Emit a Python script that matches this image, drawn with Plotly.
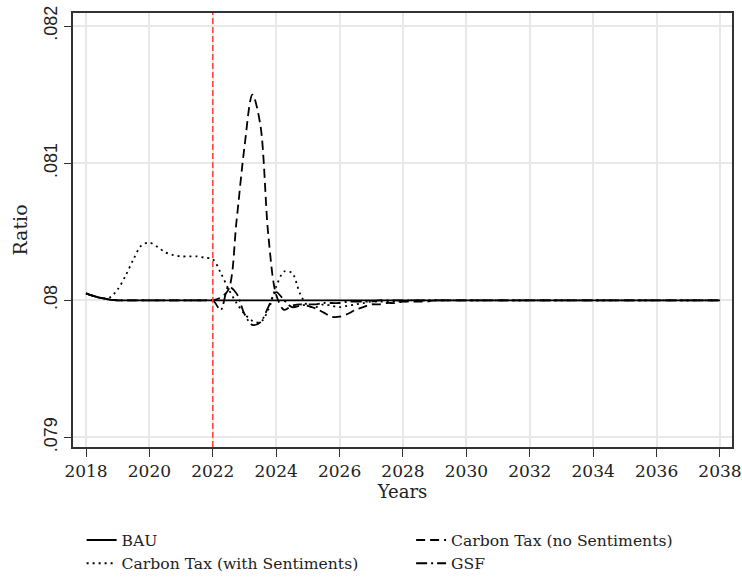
import plotly.graph_objects as go

# quarterly time grid 2018Q1 .. 2038Q1
years = [2018 + q / 4 for q in range(81)]

bau = [0.08005, 0.08003, 0.080015, 0.080005] + [0.08] * 77

tax_with = [0.08005, 0.08003, 0.080015, 0.08002,
            0.08008, 0.08018, 0.08030, 0.08040,
            0.08042, 0.08039, 0.08035, 0.08033,
            0.08032, 0.08032, 0.08032, 0.08031,
            0.08030, 0.08020, 0.08008, 0.07998,
            0.07990, 0.07985, 0.07984, 0.07993,
            0.08010, 0.08021, 0.08020, 0.08005,
            0.07996, 0.07995, 0.07997, 0.07996,
            0.07995, 0.07996, 0.07997, 0.07998,
            0.07999, 0.07999, 0.07999, 0.07999,
            0.07999, 0.08, 0.08, 0.08] + [0.08] * 37

tax_no = [0.08005, 0.08003, 0.080015, 0.080005,
          0.08, 0.08, 0.08, 0.08,
          0.08, 0.08, 0.08, 0.08,
          0.08, 0.08, 0.08, 0.08,
          0.08, 0.08002, 0.08008, 0.08058,
          0.08112, 0.08150, 0.08128, 0.08048,
          0.08004, 0.07993, 0.07996, 0.07997,
          0.07996, 0.07994, 0.07991, 0.07988,
          0.07988, 0.07990, 0.07993, 0.07995,
          0.07997, 0.07997, 0.07998, 0.07998,
          0.07999, 0.07999, 0.07999, 0.07999,
          0.08, 0.08, 0.08, 0.08] + [0.08] * 33

gsf = [0.08005, 0.08003, 0.080015, 0.080005,
       0.08, 0.08, 0.08, 0.08,
       0.08, 0.08, 0.08, 0.08,
       0.08, 0.08, 0.08, 0.08,
       0.08, 0.07993, 0.08010, 0.08005,
       0.07990, 0.07982, 0.07984, 0.07995,
       0.08006, 0.08, 0.07995, 0.07996,
       0.07997, 0.07997, 0.07998, 0.07998,
       0.07998, 0.07999, 0.07999, 0.07999,
       0.07999, 0.08, 0.08, 0.08] + [0.08] * 41

policy_year = 2022
x_ticks = list(range(2018, 2039, 2))
y_ticks = [0.079, 0.080, 0.081, 0.082]
y_labels = [".079", ".08", ".081", ".082"]

serif = "DejaVu Serif"

fig = go.Figure()
series = [
    ("BAU", bau, "solid"),
    ("Carbon Tax (no Sentiments)", tax_no, "9px,5px"),
    ("Carbon Tax (with Sentiments)", tax_with, "2px,4px"),
    ("GSF", gsf, "11px,4px,2px,4px"),
]
for name, vals, dash in series:
    fig.add_trace(go.Scatter(
        x=years, y=vals, name=name, mode="lines",
        line=dict(color="black", width=1.8, dash=dash, shape="spline", smoothing=0.9),
    ))

fig.add_vline(x=policy_year, line=dict(color="#ff4444", width=1.5, dash="6px,3px"))

fig.update_layout(
    width=742, height=577,
    margin=dict(l=73, r=10, t=13, b=130, autoexpand=False),
    paper_bgcolor="white", plot_bgcolor="white",
    showlegend=True,
    legend=dict(
        orientation="h", xref="container", yref="container",
        x=0.11, xanchor="left", y=0.093, yanchor="top",
        font=dict(family=serif, size=15.6, color="#222"),
        entrywidth=0.5, entrywidthmode="fraction",
        traceorder="normal", tracegroupgap=0,
    ),
)
fig.update_xaxes(
    range=[2017.59, 2038.38],
    tickvals=x_ticks,
    ticks="outside", ticklen=8, tickwidth=1.3, tickcolor="#333",
    showline=True, linecolor="#333", linewidth=1.5, mirror=True,
    showgrid=True, gridcolor="#e8e8e8", gridwidth=1.5,
    zeroline=False,
    tickfont=dict(family=serif, size=17, color="#222"),
    title=dict(text="Years", font=dict(family=serif, size=18, color="#222"), standoff=0),
)
fig.update_yaxes(
    range=[0.07893, 0.082095],
    tickvals=y_ticks, ticktext=y_labels, tickangle=-90,
    ticks="outside", ticklen=7, tickwidth=1.3, tickcolor="#333",
    showline=True, linecolor="#333", linewidth=1.5, mirror=True,
    showgrid=True, gridcolor="#e8e8e8", gridwidth=1.5,
    zeroline=False,
    tickfont=dict(family="Liberation Sans", size=18, color="#222"),
    title=dict(text="Ratio", font=dict(family=serif, size=19, color="#222"), standoff=8),
)

fig.write_html("out.html")
